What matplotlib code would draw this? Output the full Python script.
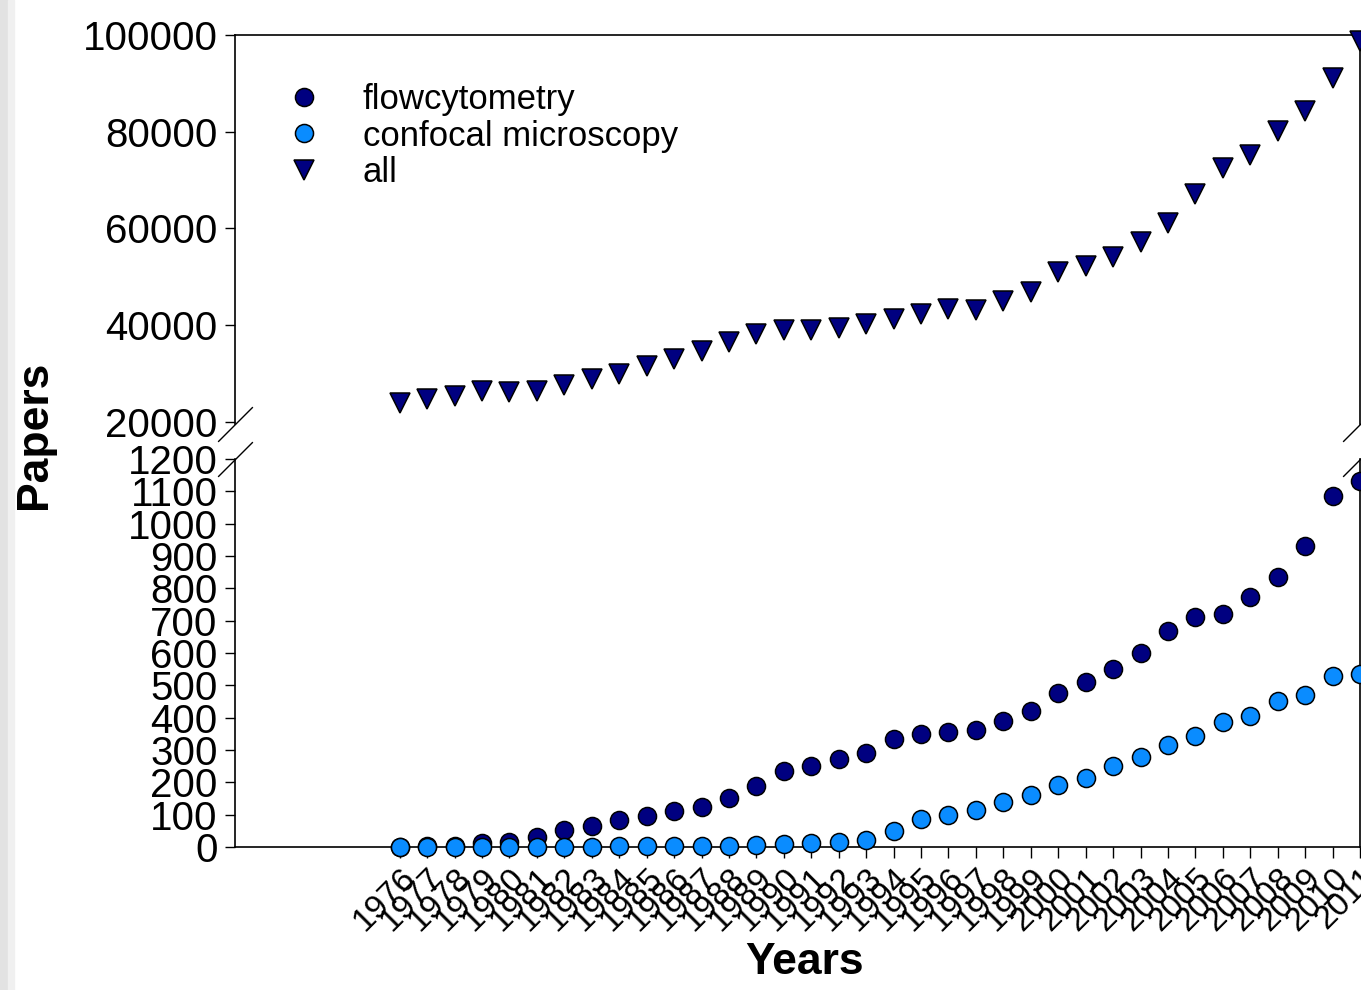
import matplotlib
matplotlib.use("Agg")
import matplotlib.pyplot as plt
from matplotlib.patches import Rectangle

plt.rcParams['font.family'] = ['Liberation Sans', 'DejaVu Sans']

# データ
years = [1976, 1977, 1978, 1979, 1980, 1981, 1982, 1983, 1984, 1985, 1986, 1987,
         1988, 1989, 1990, 1991, 1992, 1993, 1994, 1995, 1996, 1997, 1998, 1999,
         2000, 2001, 2002, 2003, 2004, 2005, 2006, 2007, 2008, 2009, 2010, 2011]
flow = [1, 2, 4, 14, 17, 30, 52, 65, 83, 97, 111, 124,
        152, 188, 236, 251, 272, 292, 335, 351, 356, 361, 389, 421,
        477, 510, 549, 601, 667, 711, 721, 773, 834, 932, 1084, 1133]
confocal = [0, 0, 0, 0, 1, 1, 1, 1, 2, 2, 2, 3,
            3, 5, 8, 11, 15, 23, 49, 88, 98, 114, 138, 160,
            191, 215, 251, 279, 316, 344, 387, 405, 451, 471, 529, 536]
all_papers = [23800, 24600, 25400, 26400, 26200, 26400, 27500, 28900, 29800, 31500, 32900, 34600,
              36500, 38200, 38900, 38900, 39400, 40200, 41300, 42200, 43300, 43100, 44900, 46800,
              50900, 52200, 54100, 57200, 61200, 67200, 72400, 75200, 80200, 84300, 91200, 98800]
top_ticks = [20000, 40000, 60000, 80000, 100000]
bottom_ticks = [0, 100, 200, 300, 400, 500, 600, 700, 800, 900, 1000, 1100, 1200]

navy = '#000080'
light = '#0a8cff'

fig = plt.figure(figsize=(13.61, 9.90), dpi=100)
ax_top = fig.add_axes([0.1727, 0.5717, 0.8266, 0.3929])
ax_bot = fig.add_axes([0.1727, 0.1444, 0.8266, 0.3920])

# 左端のグレー帯
fig.patches.append(Rectangle((0, 0), 8 / 1361, 1, transform=fig.transFigure, color='#e2e2e2', zorder=-5))
fig.patches.append(Rectangle((8 / 1361, 0), 6 / 1361, 1, transform=fig.transFigure, color='#f0f0f0', zorder=-5))

h_all, = ax_top.plot(years, all_papers, linestyle='none', marker='v', markersize=14,
                     markerfacecolor=navy, markeredgecolor='black', markeredgewidth=1.1,
                     clip_on=False, label='all', zorder=3)
h_flow, = ax_bot.plot(years, flow, linestyle='none', marker='o', markersize=13,
                      markerfacecolor=navy, markeredgecolor='black', markeredgewidth=1.1,
                      clip_on=False, label='flowcytometry', zorder=3)
h_conf, = ax_bot.plot(years, confocal, linestyle='none', marker='o', markersize=13,
                      markerfacecolor=light, markeredgecolor='black', markeredgewidth=1.1,
                      clip_on=False, label='confocal microscopy', zorder=4)

for ax in (ax_top, ax_bot):
    ax.set_xlim(1970, 2011)
    for s in ax.spines.values():
        s.set_linewidth(1.2)
    ax.tick_params(axis='y', direction='out', length=7.5, width=1.0, pad=5, labelsize=29)

ax_top.set_ylim(19500, 100000)
ax_top.set_yticks(top_ticks)
ax_top.set_yticklabels([str(v) for v in top_ticks])
ax_top.spines['bottom'].set_visible(False)
ax_top.set_xticks([])

ax_bot.set_ylim(0, 1200)
ax_bot.set_yticks(bottom_ticks)
ax_bot.set_yticklabels([str(v) for v in bottom_ticks])
ax_bot.spines['top'].set_visible(False)
ax_bot.set_xticks(years)
ax_bot.set_xticklabels([str(y) for y in years], rotation=45, ha='right', va='top',
                       rotation_mode='anchor', fontsize=24)
ax_bot.tick_params(axis='x', direction='out', length=8, width=1.0, pad=3)

# 軸の切れ目
brk = dict(marker=[(-1, -1), (1, 1)], markersize=25, linestyle='none',
           color='black', mec='black', mew=1.0, clip_on=False)
ax_top.plot([0, 1], [0, 0], transform=ax_top.transAxes, **brk)
ax_bot.plot([0, 1], [1, 1], transform=ax_bot.transAxes, **brk)

fig.text(35 / 1361, 1 - 435 / 990, 'Papers', rotation=90, ha='center', va='center',
         fontsize=32, fontweight='bold')
fig.text(805 / 1361, 1 - 963 / 990, 'Years', ha='center', va='center',
         fontsize=32, fontweight='bold')

fig.legend(handles=[h_flow, h_conf, h_all], loc='upper left',
           bbox_to_anchor=(287 / 1361, 0.916), frameon=False, fontsize=25,
           handlelength=1.0, handletextpad=1.18, labelspacing=0.1,
           borderpad=0, borderaxespad=0)

fig.savefig('out.png', dpi=100)
